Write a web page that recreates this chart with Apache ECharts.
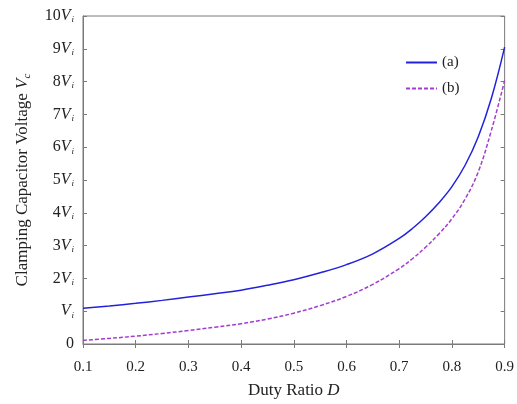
<!DOCTYPE html>
<html><head><meta charset="utf-8">
<script src="https://cdn.jsdelivr.net/npm/echarts@6/dist/echarts.min.js"></script>
<style>html,body{margin:0;padding:0;background:#fff}#c{width:517px;height:404px}</style>
</head><body><div id="c"></div>
<script>
var dutyRatio = [0.1,0.15,0.2,0.25,0.3,0.35,0.4,0.45,0.5,0.55,0.6,0.65,0.7,0.725,0.75,0.775,0.8,0.825,0.85,0.875,0.9];
var seriesA = [1.09,1.16,1.24,1.33,1.43,1.53,1.64,1.79,1.96,2.17,2.42,2.75,3.22,3.52,3.88,4.30,4.80,5.45,6.32,7.50,9.05];
var seriesB = [0.11,0.17,0.24,0.32,0.41,0.51,0.62,0.76,0.94,1.17,1.45,1.82,2.30,2.60,2.95,3.35,3.82,4.42,5.25,6.52,8.03];
var xTicks = ['0.1','0.2','0.3','0.4','0.5','0.6','0.7','0.8','0.9'];
var yTicks = ['0','V','2V','3V','4V','5V','6V','7V','8V','9V','10V'];
var legendNames = ['(a)','(b)'];

var FONT = '"Liberation Serif", "DejaVu Serif", serif';
var AX = '#7a7a7a';
function pairs(xs, ys){ return xs.map(function(x,i){return [x, ys[i]];}); }
var chart = echarts.init(document.getElementById('c'));
chart.setOption({
  animation:false,
  textStyle:{fontFamily:FONT},
  grid:{left:83,right:9,top:16,bottom:60,show:true,borderColor:AX,borderWidth:1},
  legend:{orient:'vertical',left:400,top:50,itemGap:11,itemWidth:31,itemHeight:12,
    itemStyle:{opacity:0},
    data:legendNames,textStyle:{fontFamily:FONT,fontSize:15,color:'#222'}},
  xAxis:[{type:'value',min:0.1,max:0.9,interval:0.1,
    name:'Duty Ratio {i|D}',nameLocation:'middle',nameGap:38,
    nameTextStyle:{fontFamily:FONT,fontSize:17,color:'#222',rich:{i:{fontFamily:FONT,fontStyle:'italic',fontSize:17,color:'#222'}}},
    axisLine:{lineStyle:{color:AX}},axisTick:{inside:true,length:4,lineStyle:{color:AX}},
    splitLine:{show:false},
    axisLabel:{margin:16,fontFamily:FONT,fontSize:15,color:'#222',formatter:function(v){var i=Math.round((v-0.1)*10);return xTicks[i]||'';}}},
   {type:'value',position:'top',min:0.1,max:0.9,interval:0.1,axisLine:{show:false},
    axisTick:{inside:true,length:4,lineStyle:{color:AX}},axisLabel:{show:false},splitLine:{show:false}}],
  yAxis:[{type:'value',min:0,max:10,interval:1,
    name:'Clamping Capacitor Voltage {i|V}{s|c}',nameLocation:'middle',nameGap:50,
    nameTextStyle:{fontFamily:FONT,fontSize:17,color:'#222',rich:{i:{fontFamily:FONT,fontStyle:'italic',fontSize:17,color:'#222'},s:{fontFamily:FONT,fontStyle:'italic',fontSize:11,color:'#222',padding:[9,0,0,0]}}},
    axisLine:{lineStyle:{color:AX}},axisTick:{inside:true,length:4,lineStyle:{color:AX}},
    splitLine:{show:false},
    axisLabel:{margin:9,fontFamily:FONT,fontSize:16,color:'#222',
      formatter:function(v){var t=yTicks[Math.round(v)];if(t==='0')return '0';var n=t.slice(0,-1);return (n?'{n|'+n+'}':'')+'{v|V}{s|i}';},
      rich:{n:{fontFamily:FONT,fontSize:16,color:'#222'},v:{fontFamily:FONT,fontStyle:'italic',fontSize:16,color:'#222'},s:{fontFamily:FONT,fontStyle:'italic',fontSize:9,color:'#222',padding:[8,0,0,1]}}}},
   {type:'value',position:'right',min:0,max:10,interval:1,axisLine:{show:false},
    axisTick:{inside:true,length:4,lineStyle:{color:AX}},axisLabel:{show:false},splitLine:{show:false}}],
  series:[
    {name:legendNames[0],type:'line',smooth:0.4,symbol:'none',data:pairs(dutyRatio,seriesA),
     lineStyle:{color:'#2222dd',width:1.5},itemStyle:{color:'#2222dd'}},
    {name:legendNames[1],type:'line',smooth:0.4,symbol:'none',data:pairs(dutyRatio,seriesB),
     lineStyle:{color:'#a43ccf',width:1.5,type:[4,2]},itemStyle:{color:'#a43ccf'}}
  ]
});
</script></body></html>
